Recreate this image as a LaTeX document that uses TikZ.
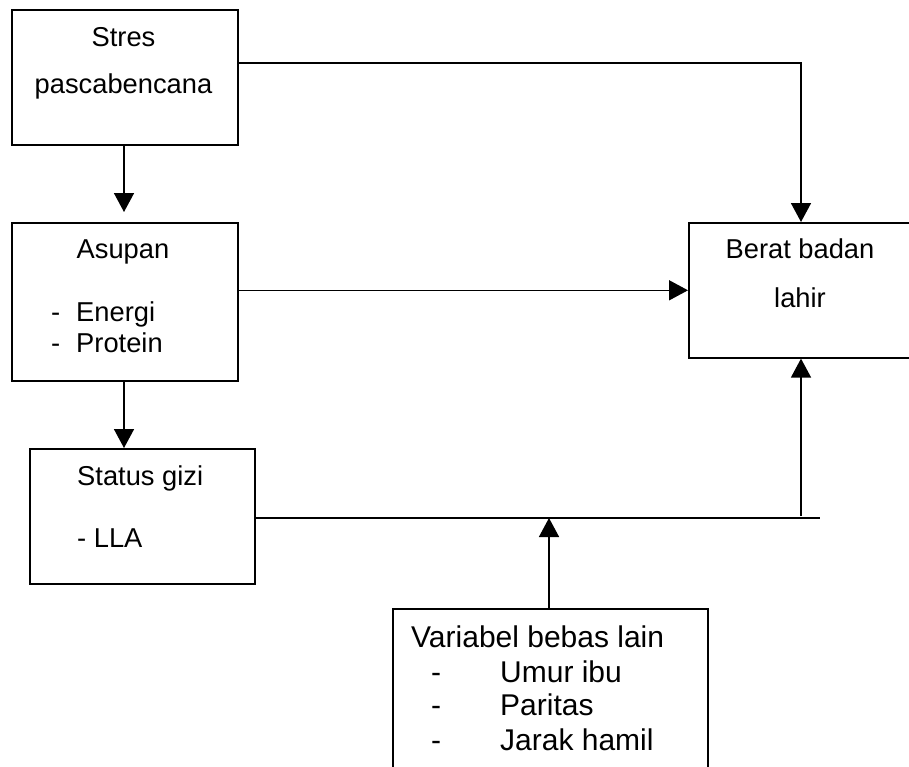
\documentclass[tikz,border=0pt]{standalone}
\usepackage{fontspec}
\setmainfont{Liberation Sans}
\usetikzlibrary{arrows.meta}
\begin{document}
\begin{tikzpicture}[x=1pt,y=-1pt,
  box/.style={draw, line width=1.6pt, rectangle, anchor=north west, inner sep=0pt},
  txt/.style={inner sep=0pt, font=\fontsize{27.3}{31.4}\selectfont},
  txtb/.style={inner sep=0pt, font=\fontsize{30}{34.5}\selectfont},
  conn/.style={line width=1.6pt},
  arr/.style={line width=1.6pt, -{Triangle[length=19pt,width=20pt]}}]
\useasboundingbox (0,0) rectangle (909,766);
\clip (0,0) rectangle (909,766);
\fill[white] (0,0) rectangle (909,766);
% boxes
\node[box, minimum width=226pt, minimum height=135pt] (stres) at (11,9) {};
\node[box, minimum width=226pt, minimum height=158pt] (asupan) at (11,222) {};
\node[box, minimum width=225pt, minimum height=135pt] (status) at (29,448) {};
\node[box, minimum width=224pt, minimum height=135pt] (berat) at (688,222) {};
\node[box, minimum width=315pt, minimum height=192pt] (var) at (392,608) {};
% texts
\node[txt, anchor=base] (t1) at (123.5,46) {Stres};
\node[txt, anchor=base] (t2) at (123.5,93) {pascabencana};
\node[txt, anchor=base] (t3) at (123,258) {Asupan};
\node[txt, anchor=base west] (t4) at (51,321) {-};
\node[txt, anchor=base west] (t5) at (76,321) {Energi};
\node[txt, anchor=base west] (t6) at (51,352) {-};
\node[txt, anchor=base west] (t7) at (76,352) {Protein};
\node[txt, anchor=base west] (t8) at (77,485) {Status gizi};
\node[txt, anchor=base west] (t9) at (77,547) {- LLA};
\node[txt, anchor=base] (t10) at (800,258) {Berat badan};
\node[txt, anchor=base] (t11) at (800,307) {lahir};
\node[txtb, anchor=base west] (t12) at (411,647) {Variabel bebas lain};
\node[txtb, anchor=base west] (t13) at (431,682) {-};
\node[txtb, anchor=base west] (t14) at (500,682) {Umur ibu};
\node[txtb, anchor=base west] (t15) at (431,715) {-};
\node[txtb, anchor=base west] (t16) at (500,715) {Paritas};
\node[txtb, anchor=base west] (t17) at (431,750) {-};
\node[txtb, anchor=base west] (t18) at (500,750) {Jarak hamil};
% connectors
\coordinate (c1) at (801,63);
\draw[arr] (stres.east |- c1) -- (c1) -- (c1 |- berat.north);
\coordinate (c2) at (124,212);
\draw[arr] (stres.south -| c2) -- (c2);
\draw[arr] (asupan.east |- berat.west) -- (berat.west);
\draw[arr] (asupan.south -| c2) -- (status.north -| c2);
\coordinate (lend) at (820,518);
\draw[conn] (status.east |- lend) -- (lend);
\coordinate (j1) at (801,516);
\draw[arr] (j1) -- (j1 |- berat.south);
\coordinate (j2) at (549,518);
\draw[arr] (var.north -| j2) -- (j2);
\end{tikzpicture}
\end{document}
